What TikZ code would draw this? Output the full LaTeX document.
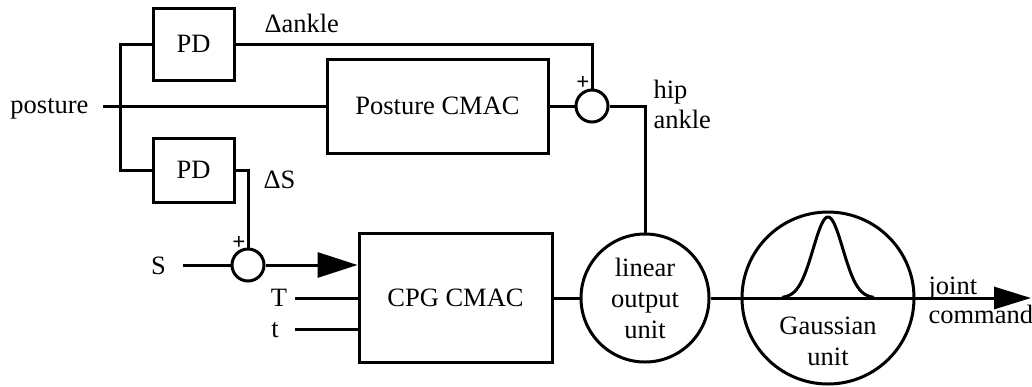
\documentclass[tikz,border=0pt]{standalone}
\usepackage{fontspec}
\setmainfont{Liberation Serif}
\usetikzlibrary{arrows.meta}
\begin{document}
\begin{tikzpicture}[x=1pt,y=-1pt, line width=3pt,
  every node/.style={font=\fontsize{26.5}{31}\selectfont},
  box/.style={draw, rectangle, inner sep=0pt},
  sumc/.style={draw, circle, minimum size=32pt, inner sep=0pt},
  unitc/.style={draw, circle, inner sep=0pt, align=center},
  lbl/.style={inner sep=0pt},
  plus/.style={inner sep=0pt, font=\fontsize{23}{24}\bfseries\selectfont},
  bigarrow/.style={-{Triangle[length=40pt,width=25pt]}},
  outarrow/.style={-{Triangle[length=37pt,width=22pt]}}
]
\useasboundingbox (0,0) rectangle (1032,386);

% blocks
\node[box, minimum width=81pt, minimum height=72pt] (pd1) at (193.5,44) {PD};
\node[box, minimum width=81pt, minimum height=64pt] (pd2) at (193.5,170) {PD};
\node[box, minimum width=221pt, minimum height=94pt] (pc) at (437.5,106) {Posture CMAC};
\node[box, minimum width=193pt, minimum height=129pt] (cpg) at (455.5,298) {CPG CMAC};
\node[sumc] (sum1) at (248,265) {};
\node[sumc] (sum2) at (592,106) {};
\node[unitc, minimum size=128pt] (lin) at (645,298) {linear\\output\\unit};
\node[unitc, minimum size=172pt] (gau) at (828,298) {};
\node[lbl, align=center] (gtext) at (828,341.5) {Gaussian\\unit};

% labels
\node[lbl, anchor=base east] (posture) at (90,113) {posture};
\node[lbl, anchor=base west] (dank) at (263,32) {Δankle};
\node[lbl, anchor=base west] (dS) at (262,188) {ΔS};
\node[lbl] (S) at (158.5,266) {S};
\node[lbl] (T) at (279,298) {T};
\node[lbl, anchor=base] (t) at (275,337) {t};
\node[lbl, anchor=base west] (hip) at (652,98) {hip};
\node[lbl, anchor=base west] (ankle) at (652,128) {ankle};
\node[lbl, anchor=base west] (joint) at (927,294) {joint};
\node[lbl, anchor=base west] (command) at (927,323) {command};
\node[plus] (p1) at (239,243) {+};
\node[plus] (p2) at (583,83) {+};

% connectors
\coordinate (bus) at (120,106);
\coordinate (pin) at (103,106);
\coordinate (sin) at (183,265);
\coordinate (tin) at (295,298);
\coordinate (lin2) at (295,329);
\coordinate (out) at (1031,298);

\draw (pin) -- (pc.west);
\draw (pd1.west) -| (bus) |- (pd2.west);
\draw (pd1.east) -| (sum2.north);
\draw (pc.east) -- (sum2.west);
\draw (sum2.east) -| (lin.north);
\draw (pd2.east) -| (sum1.north);
\draw (sin) -- (sum1.west);
\draw[bigarrow] (sum1.east) -- (sum1.east -| cpg.west);
\draw (tin) -- (tin -| cpg.west);
\draw (lin2) -- (lin2 -| cpg.west);
\draw (cpg.east) -- (lin.west);
\draw[outarrow] (lin.east) -- (out);
\draw plot[domain=-46:46, samples=80, smooth] ({828+\x},{298-81*exp(-(\x/21)^2)});
\end{tikzpicture}
\end{document}
